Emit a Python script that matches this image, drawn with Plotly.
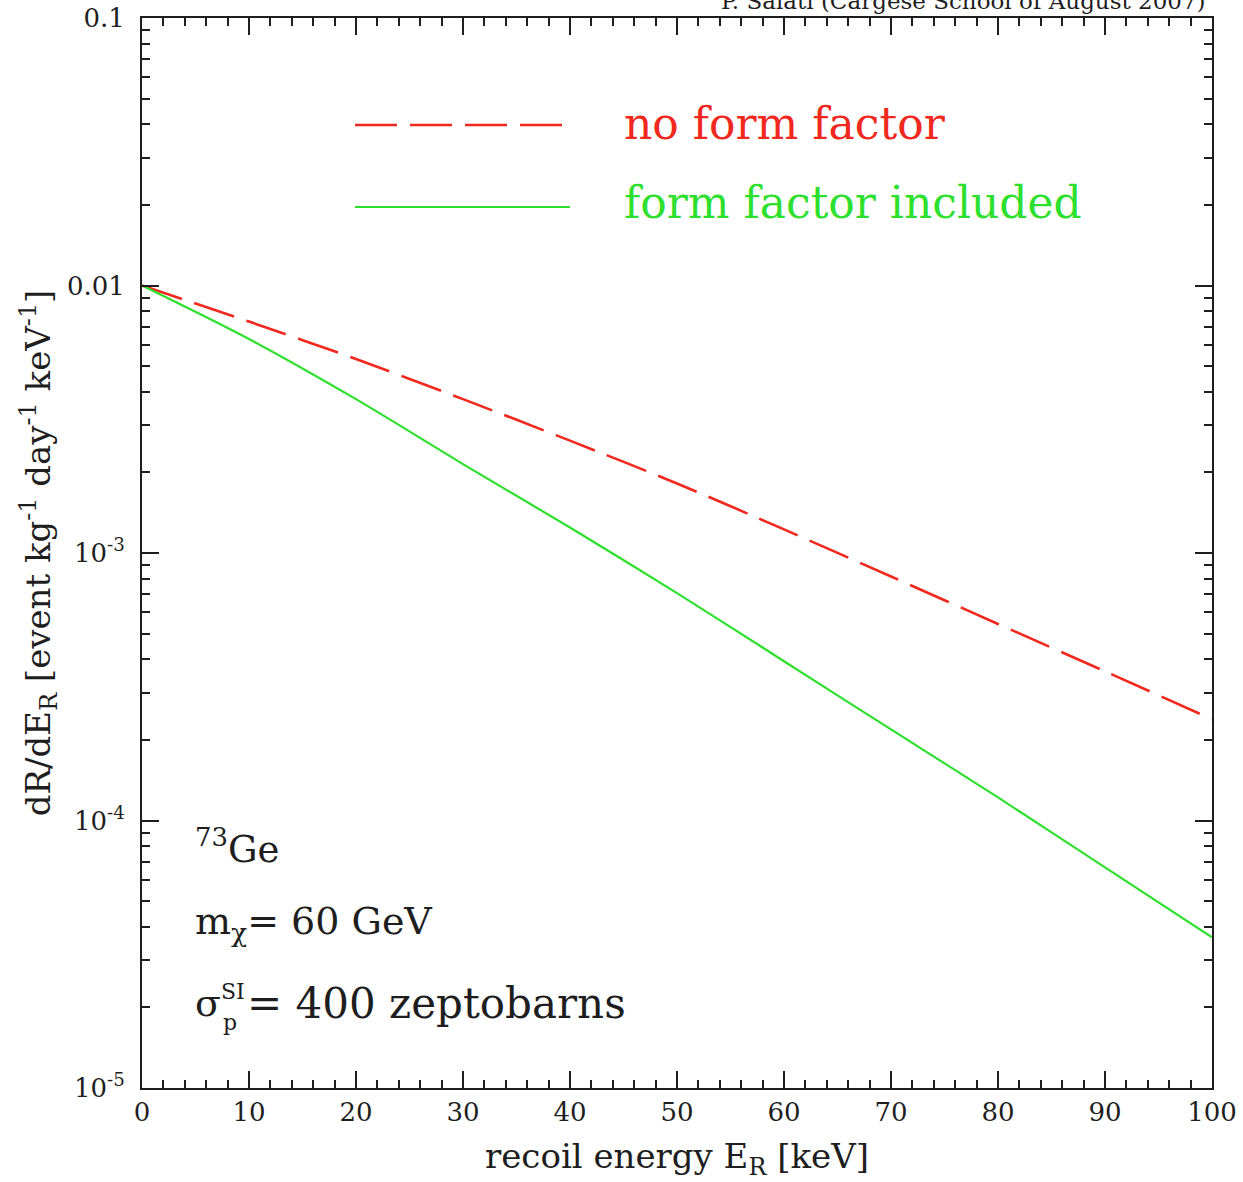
import plotly.graph_objects as go

# Recoil spectrum for 73Ge, values per 10 keV step
energy_kev = [0, 10, 20, 30, 40, 50, 60, 70, 80, 90, 100]
rate_no_ff = [1.0e-2, 7.33e-3, 5.31e-3, 3.76e-3, 2.63e-3, 1.82e-3,
              1.225e-3, 8.17e-4, 5.43e-4, 3.61e-4, 2.39e-4]
rate_with_ff = [1.0e-2, 6.31e-3, 3.76e-3, 2.15e-3, 1.245e-3, 7.08e-4,
                3.94e-4, 2.19e-4, 1.22e-4, 6.68e-5, 3.66e-5]

series_names = ["no form factor", "form factor included"]

x_tick_vals = list(range(0, 101, 10))
x_tick_text = [str(v) for v in x_tick_vals]
y_tick_vals = [1e-5, 1e-4, 1e-3, 1e-2, 1e-1]
y_tick_text = ["10<sup>-5</sup>", "10<sup>-4</sup>", "10<sup>-3</sup>", "0.01", "0.1"]
y_minor_vals = [m * 10.0 ** e for e in range(-5, -1) for m in range(2, 10)]

RED = "#f0281e"
GREEN = "#2ee02e"
INK = "#1e1e1e"
FONT = "DejaVu Serif"

W, H = 1243, 1182
L, R, T, B = 142, 31, 18, 94
PW, PH = W - L - R, H - T - B


def px_x(px):
    return (px - L) / PW


def px_y(py):
    return (H - B - py) / PH


fig = go.Figure()

fig.add_trace(go.Scatter(
    x=energy_kev, y=rate_no_ff, mode="lines", name=series_names[0],
    line=dict(color=RED, width=2.6, dash="42px,13px", shape="spline", smoothing=0.8),
))
fig.add_trace(go.Scatter(
    x=energy_kev, y=rate_with_ff, mode="lines", name=series_names[1],
    line=dict(color=GREEN, width=2.2, shape="spline", smoothing=0.8),
))

# hand-drawn key in the upper part of the frame
fig.add_shape(type="line", xref="paper", yref="paper",
              x0=px_x(355), x1=px_x(567), y0=px_y(125), y1=px_y(125),
              line=dict(color=RED, width=2.6, dash="42px,13px"))
fig.add_shape(type="line", xref="paper", yref="paper",
              x0=px_x(355), x1=px_x(570), y0=px_y(207), y1=px_y(207),
              line=dict(color=GREEN, width=2.2))

annotations = [
    dict(text=series_names[0], x=px_x(622), y=px_y(124), xanchor="left",
         yanchor="middle", font=dict(size=44, color=RED)),
    dict(text=series_names[1], x=px_x(622), y=px_y(203), xanchor="left",
         yanchor="middle", font=dict(size=44, color=GREEN)),
    dict(text="<sup>73</sup>Ge", x=px_x(193), y=px_y(846), xanchor="left",
         yanchor="middle", font=dict(size=37, color=INK)),
    dict(text="m<sub>χ</sub>= 60 GeV", x=px_x(193), y=px_y(923), xanchor="left",
         yanchor="middle", font=dict(size=38, color=INK)),
    dict(text="σ", x=px_x(193), y=px_y(1003), xanchor="left",
         yanchor="middle", font=dict(size=38, color=INK)),
    dict(text="SI", x=px_x(219), y=px_y(991), xanchor="left",
         yanchor="middle", font=dict(size=22, color=INK)),
    dict(text="p", x=px_x(221), y=px_y(1022), xanchor="left",
         yanchor="middle", font=dict(size=22, color=INK)),
    dict(text="= 400 zeptobarns", x=px_x(245), y=px_y(1003), xanchor="left",
         yanchor="middle", font=dict(size=42, color=INK)),
    dict(text="P. Salati (Cargese School of August 2007)", x=1.0, y=1.0,
         xanchor="right", yanchor="bottom", yshift=2, xshift=-4,
         font=dict(size=23, color=INK)),
]
for a in annotations:
    a.update(xref="paper", yref="paper", showarrow=False)

axis_common = dict(
    showline=True, linecolor=INK, linewidth=2, mirror="allticks",
    ticks="inside", tickcolor=INK, tickwidth=1.6, ticklen=17,
    showgrid=False, zeroline=False, automargin=False,
    tickfont=dict(family=FONT, size=26, color=INK),
)

fig.update_layout(
    width=W, height=H,
    margin=dict(l=L, r=R, t=T, b=B, autoexpand=False),
    paper_bgcolor="white", plot_bgcolor="white",
    font=dict(family=FONT, color=INK),
    showlegend=False,
    annotations=annotations,
    xaxis=dict(
        **axis_common,
        range=[0, 100], tickmode="array", tickvals=x_tick_vals, ticktext=x_tick_text,
        minor=dict(ticks="inside", dtick=2, tick0=0, ticklen=8, tickwidth=1.6,
                   tickcolor=INK, showgrid=False),
        title=dict(text="recoil energy E<sub>R</sub> [keV]", standoff=18,
                   font=dict(family=FONT, size=34, color=INK)),
    ),
    yaxis=dict(
        **axis_common,
        type="log", range=[-5, -1], tickmode="array",
        tickvals=y_tick_vals, ticktext=y_tick_text, ticklabelstandoff=10,
        minor=dict(ticks="inside", tickmode="array", tickvals=y_minor_vals,
                   ticklen=8, tickwidth=1.6, tickcolor=INK, showgrid=False),
        title=dict(text="dR/dE<sub>R</sub> [event kg<sup>-1</sup> day<sup>-1</sup> keV<sup>-1</sup>]",
                   standoff=6, font=dict(family=FONT, size=34, color=INK)),
    ),
)

fig.write_html("out.html")
